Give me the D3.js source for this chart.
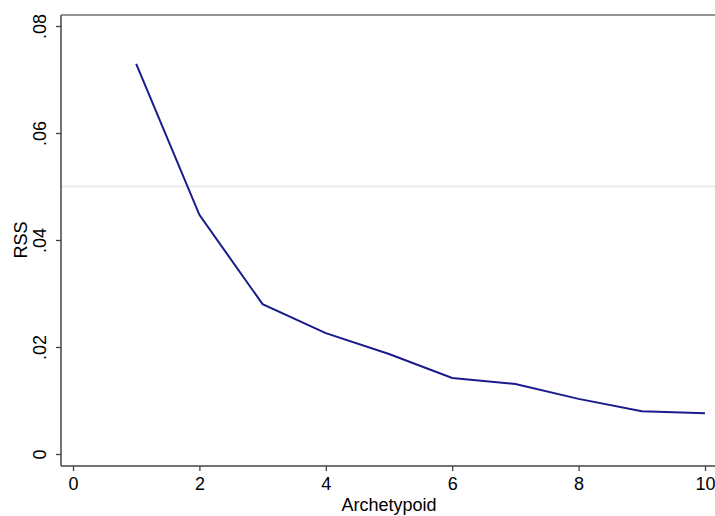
<!DOCTYPE html>
<html>
<head>
<meta charset="utf-8">
<script src="https://cdn.jsdelivr.net/npm/d3@7"></script>
<style>
  body { margin: 0; background: #fff; }
  text { font-family: "Liberation Sans", Arial, sans-serif; fill: #000; }
</style>
</head>
<body>
<div id="chart"></div>
<script>
// data
var archetypoids = [1, 2, 3, 4, 5, 6, 7, 8, 9, 10];
var rss = [0.0729, 0.0447, 0.0280, 0.0226, 0.0187, 0.0142, 0.0131, 0.0103, 0.0080, 0.0076];
var xTicks = [0, 2, 4, 6, 8, 10];
var yTicks = [0, 0.02, 0.04, 0.06, 0.08];
var refLine = 0.05;

var svgWidth = 715;
var svgHeight = 516;

var margin = { top: 15, right: 0, bottom: 50, left: 61 };

var svg = d3.select("#chart")
    .append("svg")
    .attr("width", svgWidth)
    .attr("height", svgHeight);

// scales
var xScale = d3.scaleLinear().domain([0, 10]).range([73, 705]);
var yScale = d3.scaleLinear().domain([0, 0.08]).range([454, 26]);

var plotBottom = svgHeight - margin.bottom; // 466

// reference line
svg.append("line")
    .attr("x1", margin.left)
    .attr("x2", svgWidth)
    .attr("y1", yScale(refLine))
    .attr("y2", yScale(refLine))
    .attr("stroke", "#e6e6e6")
    .attr("stroke-width", 1.5);

// top frame line
svg.append("line")
    .attr("x1", margin.left)
    .attr("x2", svgWidth)
    .attr("y1", margin.top)
    .attr("y2", margin.top)
    .attr("stroke", "#707070")
    .attr("stroke-width", 1.5);

// x axis
var xAxis = svg.append("g")
    .attr("transform", `translate(0,${plotBottom})`)
    .call(d3.axisBottom(xScale).tickValues(xTicks).tickSize(5).tickPadding(6)
        .tickSizeOuter(0));
xAxis.select(".domain")
    .attr("d", `M${margin.left},0H${svgWidth}`)
    .attr("stroke", "#444")
    .attr("stroke-width", 1.5);
xAxis.selectAll(".tick line").attr("stroke", "#444").attr("stroke-width", 1.3);
xAxis.selectAll(".tick text")
    .style("font-size", "18px")
    .style("font-family", "Liberation Sans, Arial, sans-serif")
    .attr("fill", "#000");

// y axis
var yAxis = svg.append("g")
    .attr("transform", `translate(${margin.left},0)`)
    .call(d3.axisLeft(yScale).tickValues(yTicks).tickSize(5)
        .tickFormat(d => d === 0 ? "0" : d3.format(".2f")(d).replace(/^0/, "")));
yAxis.select(".domain")
    .attr("d", `M0,${margin.top}V${plotBottom}`)
    .attr("stroke", "#444")
    .attr("stroke-width", 1.5);
yAxis.selectAll(".tick line").attr("stroke", "#444").attr("stroke-width", 1.3);
yAxis.selectAll(".tick text")
    .attr("x", null)
    .attr("dy", null)
    .attr("text-anchor", "middle")
    .attr("transform", "translate(-15,0) rotate(-90)")
    .style("font-size", "18px")
    .style("font-family", "Liberation Sans, Arial, sans-serif")
    .attr("fill", "#000");

// line
var line = d3.line()
    .x((d, i) => xScale(archetypoids[i]))
    .y(d => yScale(d));

svg.append("path")
    .datum(rss)
    .attr("d", line)
    .attr("fill", "none")
    .attr("stroke", "#1a1a8c")
    .attr("stroke-width", 2);

// axis titles
svg.append("text")
    .attr("x", (xScale(0) + xScale(10)) / 2)
    .attr("y", 511)
    .attr("text-anchor", "middle")
    .style("font-size", "18px")
    .text("Archetypoid");

svg.append("text")
    .attr("transform", `translate(27,${(yScale(0) + yScale(0.08)) / 2}) rotate(-90)`)
    .attr("text-anchor", "middle")
    .style("font-size", "18px")
    .text("RSS");
</script>
</body>
</html>
